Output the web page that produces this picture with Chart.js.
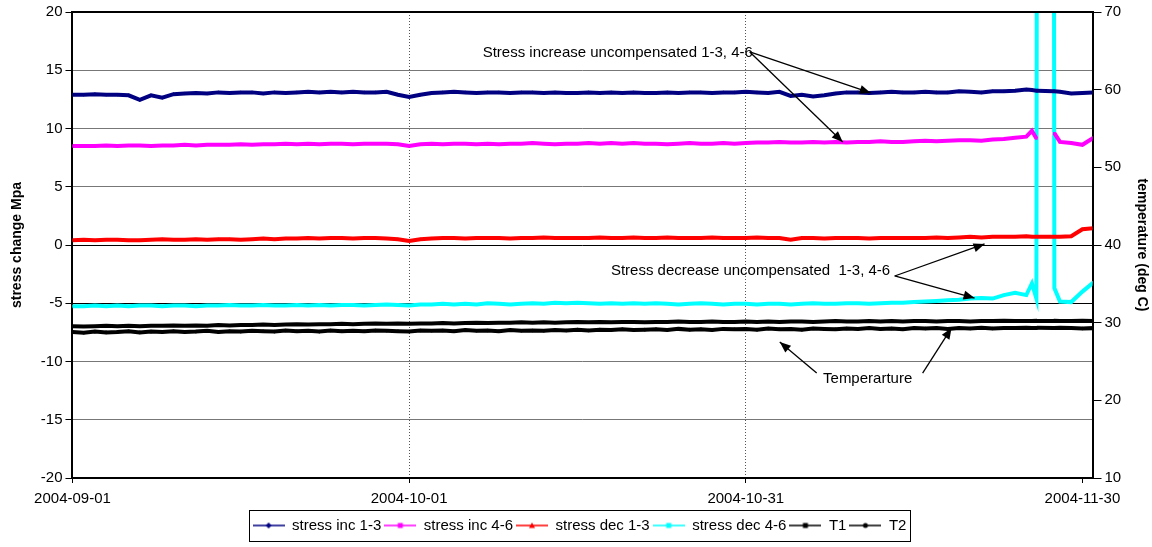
<!DOCTYPE html>
<html>
<head>
<meta charset="utf-8">
<script src="https://cdn.jsdelivr.net/npm/chart.js@4"></script>
<style>
  body{margin:0;background:#fff}
  #wrap{width:1152px;height:547px}
</style>
</head>
<body>
<div id="wrap"><canvas id="stressChart" width="1152" height="547"></canvas></div>
<script>
// sample times, days after 2004-09-01
const days = [0,1,2,3,4,5,6,7,8,9,10,11,12,13,14,15,16,17,18,19,20,21,22,23,24,25,26,27,28,29,
  30,31,32,33,34,35,36,37,38,39,40,41,42,43,44,45,46,47,48,49,50,51,52,53,54,55,56,57,58,59,
  60,61,62,63,64,65,66,67,68,69,70,71,72,73,74,75,76,77,78,79,80,81,82,83,84,85,
  85.5,85.9,86,87.4,87.5,88,89,90,91]

const xTicks = [0,30,60,90]
const xLabels = ['2004-09-01','2004-10-01','2004-10-31','2004-11-30']

// stress change, MPa (left axis)
const incA = [12.9,12.9,12.95,12.9,12.9,12.85,12.45,12.85,12.65,12.95,
  13.0,13.05,13.0,13.1,13.05,13.1,13.1,13.0,13.1,13.05,13.1,
  13.15,13.1,13.15,13.1,13.15,13.1,13.1,13.15,
  12.9,12.7,12.9,13.05,
  13.1,13.15,13.1,13.05,13.1,13.1,13.05,13.1,13.1,13.05,13.1,13.05,13.05,13.1,13.05,13.1,
  13.05,13.1,13.05,13.05,13.1,13.05,13.1,13.1,13.05,13.1,13.1,13.15,13.1,13.05,13.15,
  12.8,12.9,12.75,12.85,13.0,
  13.1,13.1,13.05,13.1,13.15,13.1,13.1,13.15,13.1,13.1,13.2,13.15,13.1,13.2,13.2,13.25,
  13.35,13.3,13.25,13.25,13.2,13.2,13.15,13.0,13.05,13.1]

const incB = [8.5,8.5,8.5,8.55,8.5,8.55,8.55,8.5,8.55,8.55,8.6,
  8.55,8.6,8.6,8.6,8.65,8.6,8.65,8.65,8.7,8.65,
  8.7,8.65,8.7,8.7,8.65,8.7,8.7,8.7,8.65,
  8.5,8.65,
  8.7,8.65,8.7,8.7,8.65,8.7,8.65,8.7,8.7,8.75,8.7,8.65,8.7,8.7,
  8.75,8.7,8.75,8.7,8.75,8.7,8.7,8.65,8.7,8.75,8.7,8.7,8.75,8.7,
  8.75,8.8,8.8,8.85,8.8,8.8,8.85,8.8,8.85,8.8,8.85,8.85,8.9,8.85,8.85,8.9,
  8.95,8.9,8.95,9.0,9.0,8.95,9.05,9.1,9.2,
  9.3,9.8,9.15,null,null,9.6,8.85,8.75,8.6,9.2]

const decA = [0.4,0.45,0.4,0.45,0.45,0.4,0.4,0.45,0.5,0.45,0.45,
  0.5,0.45,0.5,0.5,0.45,0.5,0.55,0.5,0.55,0.55,
  0.6,0.55,0.6,0.6,0.55,0.6,0.6,0.55,0.5,
  0.35,0.5,
  0.55,0.6,0.6,0.55,0.6,0.6,0.6,0.55,0.6,0.6,0.65,0.6,0.6,0.6,
  0.6,0.65,0.6,0.6,0.65,0.6,0.6,0.65,0.6,0.6,0.6,0.65,0.6,0.6,
  0.6,0.65,0.6,0.6,0.45,0.6,0.6,0.55,0.6,0.6,0.6,0.55,0.6,0.6,0.6,0.6,
  0.6,0.65,0.6,0.65,0.7,0.65,0.7,0.7,0.7,
  0.75,0.7,0.7,0.7,0.7,0.7,0.7,0.75,1.35,1.45]

const decB = [-5.25,-5.25,-5.2,-5.25,-5.2,-5.25,-5.2,-5.2,-5.25,-5.2,-5.2,
  -5.25,-5.2,-5.2,-5.15,-5.2,-5.2,-5.15,-5.2,-5.2,-5.15,
  -5.2,-5.15,-5.2,-5.15,-5.15,-5.2,-5.15,-5.1,-5.15,
  -5.2,-5.1,
  -5.1,-5.05,-5.1,-5.05,-5.1,-5.0,-5.05,-5.1,-5.05,-5.0,-5.05,-4.95,-5.0,-4.95,
  -5.0,-5.05,-5.0,-5.05,-5.0,-5.05,-5.0,-5.05,-5.1,-5.05,-5.0,-5.05,-5.1,-5.05,
  -5.05,-5.1,-5.05,-5.05,-5.1,-5.05,-5.0,-5.05,-5.05,-5.0,-5.0,-5.05,-5.0,-4.95,-4.95,-4.9,
  -4.85,-4.8,-4.75,-4.7,-4.6,-4.55,-4.6,-4.3,-4.1,
  -4.3,-3.3,-4.6,80,80,-3.7,-4.85,-4.9,-4.0,-3.2]

// temperature, deg C (right axis)
const temp1 = [29.55,29.5,29.55,29.6,29.55,29.6,29.55,29.6,29.6,29.65,29.6,
  29.65,29.6,29.7,29.65,29.7,29.7,29.75,29.7,29.75,29.8,
  29.75,29.8,29.8,29.85,29.8,29.85,29.9,29.85,29.9,
  29.85,29.9,
  29.9,29.95,29.9,29.95,30.0,29.95,30.0,30.0,30.05,30.0,30.05,30.0,30.05,30.1,
  30.05,30.1,30.05,30.1,30.1,30.05,30.1,30.1,30.15,30.1,30.1,30.15,30.1,30.1,
  30.15,30.1,30.15,30.1,30.15,30.15,30.1,30.15,30.2,30.15,30.15,30.2,30.15,30.2,30.15,30.2,
  30.2,30.15,30.2,30.2,30.15,30.2,30.2,30.25,30.2,
  30.2,30.2,30.25,30.2,30.2,30.25,30.2,30.2,30.25,30.2]

const temp2 = [28.8,28.7,28.85,28.75,28.8,28.9,28.75,28.85,28.8,28.9,28.8,
  28.85,28.95,28.8,28.9,28.85,28.95,28.9,28.85,29.0,28.9,
  28.95,28.85,29.0,28.9,28.95,28.9,29.0,28.95,28.9,
  28.85,29.0,
  28.95,29.0,28.9,29.05,28.95,29.0,28.9,29.05,28.95,29.0,28.95,29.05,29.0,29.1,
  29.0,29.1,29.05,29.15,29.05,29.1,29.15,29.05,29.2,29.1,29.15,29.05,29.2,29.15,
  29.2,29.1,29.25,29.15,29.2,29.1,29.25,29.2,29.15,29.25,29.2,29.3,29.2,29.25,29.15,29.3,
  29.25,29.3,29.2,29.3,29.25,29.35,29.25,29.3,29.3,
  29.35,29.3,29.3,29.35,29.3,29.3,29.35,29.3,29.25,29.3]

// annotation callouts, anchored in data units (day, MPa)
const notes = [
  {text:'Stress increase uncompensated 1-3, 4-6', align:'right', at:[60.63,16.48],
   arrows:[[60.36,16.57,71.13,13.05],[60.36,16.57,68.64,8.84]]},
  {text:'Stress decrease uncompensated  1-3, 4-6', align:'left', at:[47.98,-2.23],
   arrows:[[73.27,-2.66,81.28,0.09],[73.27,-2.66,80.39,-4.55]]},
  {text:'Temperarture', align:'center', at:[70.86,-11.5],
   arrows:[[66.32,-10.99,63.03,-8.33],[75.76,-10.99,78.34,-7.12]]}
]

const FONT = '"Liberation Sans", Arial, sans-serif'
Chart.defaults.font.family = FONT
Chart.defaults.font.size = 15
Chart.defaults.color = '#000'

const series = [
  {label:'stress inc 1-3', values:incA, color:'#000080', style:'rectRot', axis:'y'},
  {label:'stress inc 4-6', values:incB, color:'#FF00FF', style:'rect', axis:'y'},
  {label:'stress dec 1-3', values:decA, color:'#FF0000', style:'triangle', axis:'y'},
  {label:'stress dec 4-6', values:decB, color:'#00FFFF', style:'rect', axis:'y'},
  {label:'T1', values:temp1, color:'#000000', style:'rect', axis:'y2'},
  {label:'T2', values:temp2, color:'#000000', style:'circle', axis:'y2'}
]

// little line+marker samples for the legend
function swatch(color, style){
  const c = document.createElement('canvas')
  c.width = 32; c.height = 10
  const g = c.getContext('2d')
  g.strokeStyle = color; g.fillStyle = color; g.lineWidth = 1.5
  g.beginPath(); g.moveTo(0,5); g.lineTo(32,5); g.stroke()
  g.beginPath()
  if(style==='rectRot'){ g.moveTo(16,2); g.lineTo(19,5); g.lineTo(16,8); g.lineTo(13,5) }
  else if(style==='triangle'){ g.moveTo(16,2); g.lineTo(19,7.5); g.lineTo(13,7.5) }
  else if(style==='circle'){ g.arc(16,5,2.5,0,Math.PI*2) }
  else { g.rect(13.5,2.5,5,5) }
  g.closePath(); g.fill()
  return c
}

function arrow(ctx, x1, y1, x2, y2){
  const a = Math.atan2(y2-y1, x2-x1)
  ctx.beginPath(); ctx.moveTo(x1,y1); ctx.lineTo(x2,y2); ctx.stroke()
  ctx.beginPath()
  ctx.moveTo(x2,y2)
  ctx.lineTo(x2-11*Math.cos(a)+4.5*Math.sin(a), y2-11*Math.sin(a)-4.5*Math.cos(a))
  ctx.lineTo(x2-11*Math.cos(a)-4.5*Math.sin(a), y2-11*Math.sin(a)+4.5*Math.cos(a))
  ctx.closePath(); ctx.fill()
}

const extras = {
  id:'extras',
  afterDatasetsDraw(chart){
    const {ctx, chartArea:area, scales:{x, y}} = chart
    ctx.save()
    ctx.strokeStyle = '#000'; ctx.lineWidth = 2
    ctx.beginPath(); ctx.moveTo(area.left, area.top); ctx.lineTo(area.right, area.top); ctx.stroke()
    ctx.font = '15px ' + FONT
    ctx.fillStyle = '#000'; ctx.lineWidth = 1.3
    ctx.textBaseline = 'middle'
    notes.forEach(n=>{
      ctx.textAlign = n.align
      ctx.fillText(n.text, x.getPixelForValue(n.at[0]), y.getPixelForValue(n.at[1]))
      n.arrows.forEach(a=>arrow(ctx, x.getPixelForValue(a[0]), y.getPixelForValue(a[1]),
        x.getPixelForValue(a[2]), y.getPixelForValue(a[3])))
    })
    ctx.restore()
  },
  afterDraw(chart){
    const hb = chart.legend.legendHitBoxes
    if(!hb || !hb.length) return
    const l = Math.min(...hb.map(b=>b.left)) - 4
    const r = Math.max(...hb.map(b=>b.left+b.width)) + 3
    const t = Math.min(...hb.map(b=>b.top)) - 8
    const b = Math.max(...hb.map(b=>b.top+b.height)) + 8
    const ctx = chart.ctx
    ctx.save()
    ctx.strokeStyle = '#000'; ctx.lineWidth = 1
    ctx.strokeRect(Math.round(l)+0.5, Math.round(t)+0.5, Math.round(r-l), Math.round(b-t))
    ctx.restore()
  }
}

const ctx = document.getElementById('stressChart')

new Chart(ctx,{
  type:'line',
  data:{
    datasets: series.map(s=>({
      label:s.label,
      data: days.map((d,i)=>({x:d, y:s.values[i]})),
      yAxisID:s.axis,
      borderColor:s.color,
      backgroundColor:s.color,
      borderWidth:4,
      pointStyle:s.style,
      pointRadius:1.8,
      pointBorderWidth:0,
      pointHoverRadius:0,
      spanGaps:false,
      tension:0,
      clip:0
    }))
  },
  options:{
    responsive:false,
    animation:false,
    events:[],
    layout:{padding:{left:7, right:0, top:4, bottom:4}},
    plugins:{
      tooltip:{enabled:false},
      legend:{
        position:'bottom',
        labels:{
          usePointStyle:true,
          pointStyleWidth:32,
          padding:3,
          font:{size:15},
          generateLabels(chart){
            return series.map((s,i)=>({
              text:s.label, pointStyle:swatch(s.color, s.style),
              fillStyle:s.color, strokeStyle:s.color, lineWidth:0,
              hidden:false, datasetIndex:i, fontColor:'#000'
            }))
          }
        }
      }
    },
    scales:{
      x:{
        type:'linear',
        min:0,
        max:90.9,
        afterBuildTicks: s=>{ s.ticks = xTicks.map(v=>({value:v})) },
        ticks:{
          autoSkip:false,
          maxRotation:0,
          padding:7,
          callback:(v,i)=>xLabels[i]
        },
        grid:{
          color: c => (c.tick && (c.tick.value===30 || c.tick.value===60)) ? '#555' : 'rgba(0,0,0,0)',
          lineWidth:1,
          tickColor:'#000',
          tickLength:5,
          tickBorderDash:[]
        },
        border:{color:'#000', width:2, dash:[1,2]}
      },
      y:{
        position:'left',
        min:-20,
        max:20,
        ticks:{stepSize:5, padding:3},
        grid:{
          color: c => (c.tick && (c.tick.value===0 || c.tick.value===-5)) ? '#000' : '#777',
          lineWidth:1,
          tickColor:'#000',
          tickLength:7
        },
        border:{color:'#000', width:2},
        title:{display:true, text:'stress change Mpa', font:{size:14, weight:'bold'}, padding:{top:2, bottom:12}}
      },
      y2:{
        position:'right',
        min:10,
        max:70,
        ticks:{stepSize:10, padding:3},
        grid:{drawOnChartArea:false, tickColor:'#000', tickLength:9},
        border:{color:'#000', width:2},
        title:{display:true, text:'temperature (deg C)', font:{size:14, weight:'bold'}, padding:{top:2, bottom:9}}
      }
    }
  },
  plugins:[extras]
})
</script>
</body>
</html>
